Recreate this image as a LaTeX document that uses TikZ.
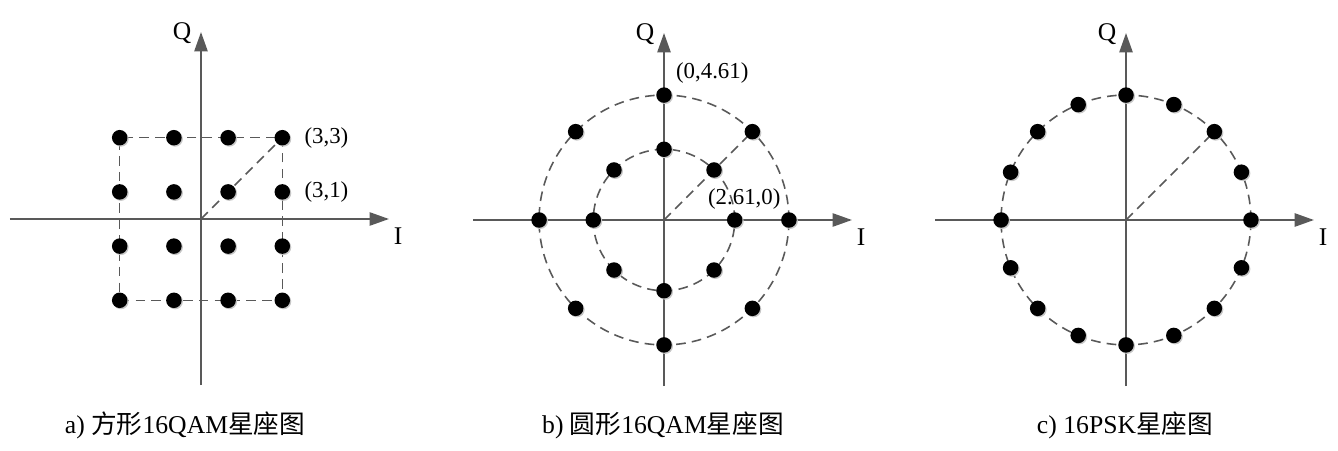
\documentclass[tikz,border=0pt]{standalone}
\usepackage{fontspec}
\setmainfont{Liberation Serif}
\newfontfamily\cjk{Noto Sans CJK SC}
\usepackage{tikz}
\usetikzlibrary{arrows.meta,positioning,calc,shadows,backgrounds}
\definecolor{axisgray}{RGB}{89,89,89}
\def\u{0.542}

\begin{document}
\begin{tikzpicture}[
  font=\fontsize{13pt}{15pt}\selectfont,
  axis/.style={draw=axisgray, line width=1.1pt, -{Triangle[length=11pt, width=7.5pt]}},
  guide/.style={draw=axisgray, line width=0.9pt, dash pattern=on 5.5pt off 3.5pt},
  dot/.style={circle, fill=black, inner sep=0pt, minimum size=0.31cm, drop shadow={shadow xshift=0.7pt, shadow yshift=-0.7pt, fill=black!22, opacity=1}},
  lbl/.style={inner sep=1pt},
  axlbl/.style={font=\fontsize{14.5pt}{16pt}\selectfont, inner sep=1pt},
  capt/.style={font=\fontsize{14.6pt}{17pt}\selectfont, inner sep=1pt}
]
\useasboundingbox (0,0) rectangle (26.76,9);

% origins of the three planes
\coordinate (oa) at (4.02,4.62);
\coordinate (ob) at (13.28,4.60);
\coordinate (oc) at (22.52,4.60);

% I/Q axes
\foreach \o in {oa,ob,oc} {
  \coordinate (\o-w) at ($(\o)+(-3.82,0)$);
  \coordinate (\o-e) at ($(\o)+(3.76,0)$);
  \coordinate (\o-s) at ($(\o)+(0,-3.32)$);
  \coordinate (\o-n) at ($(\o)+(0,3.74)$);
  \draw[axis] (\o-w) -- (\o-e);
  \draw[axis] (\o-s) -- (\o-n);
  \node[axlbl] (\o-q) at ($(\o)+(-0.38,3.72)$) {Q};
  \node[axlbl] (\o-i) at ($(\o)+(3.94,-0.34)$) {I};
}

% a) square 16QAM
\foreach \i in {-3,-1,1,3}
  \foreach \j in {-3,-1,1,3}
    \node[dot] (a\i\j) at ($(oa)+(\i*\u,\j*\u)$) {};
\begin{scope}[on background layer]
\draw[guide] (a-3-3.center) -- (a3-3.center) -- (a33.center) -- (a-33.center) -- cycle;
\draw[guide] (oa) -- (a33.center);
\end{scope}
\node[lbl, right=0.24cm of a33] (l33) {(3,3)};
\node[lbl, right=0.24cm of a31] (l31) {(3,1)};

% b) circular 16QAM
\foreach \a in {0,45,...,315} {
  \node[dot] (bi\a) at ($(ob)+(\a:2.61*\u)$) {};
  \node[dot] (bo\a) at ($(ob)+(\a:4.61*\u)$) {};
}
\begin{scope}[on background layer]
\draw[guide] (ob) circle[radius=2.61*\u];
\draw[guide] (ob) circle[radius=4.61*\u];
\draw[guide] (ob) -- (bo45.center);
\end{scope}
\node[lbl, anchor=west] (lb90) at ($(ob)+(0.20,2.94)$) {(0,4.61)};
\node[lbl, anchor=west] (lb0) at ($(ob)+(0.84,0.42)$) {(2.61,0)};

% c) 16PSK
\foreach \a in {0,22.5,...,337.5}
  \node[dot] (c\a) at ($(oc)+(\a:4.61*\u)$) {};
\begin{scope}[on background layer]
\draw[guide] (oc) circle[radius=4.61*\u];
\draw[guide] (oc) -- (c45.center);
\end{scope}

% captions
\node[capt] (capa) at (3.70,0.50) {a) {\cjk 方形}16QAM{\cjk 星座图}};
\node[capt] (capb) at (13.26,0.50) {b) {\cjk 圆形}16QAM{\cjk 星座图}};
\node[capt] (capc) at (22.50,0.50) {c) 16PSK{\cjk 星座图}};
\end{tikzpicture}
\end{document}
